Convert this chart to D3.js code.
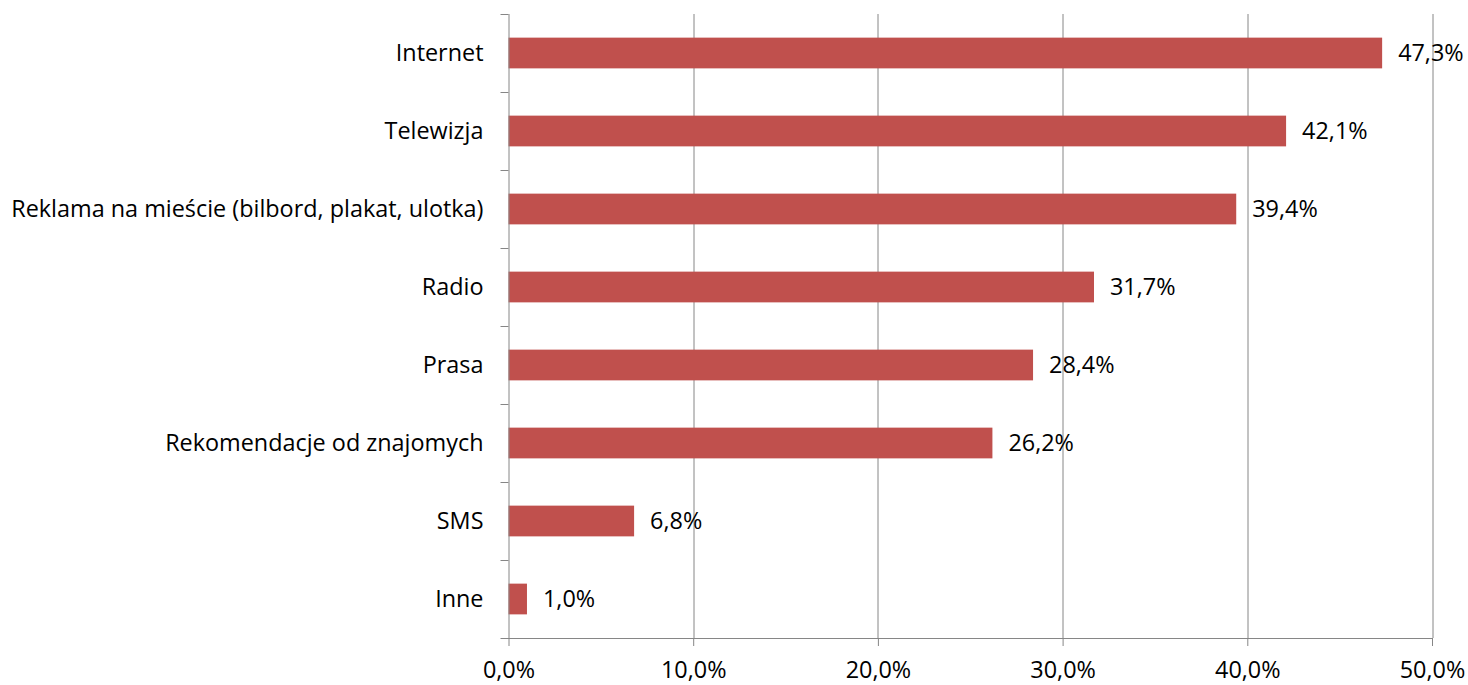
<!DOCTYPE html>
<html lang='pl'>
<head>
	<meta charset='utf-8'>
	<title>Źródła informacji</title>
	<script src="https://d3js.org/d3.v7.min.js"></script>
	<style>
		body{margin:0;background:#fff;}
		text{font-family:"Open Sans",sans-serif;fill:#000;}
	</style>
</head>
<body>
<div id='chart'></div>
<script type='text/javascript'>
	// data
	const categories = ["Internet","Telewizja","Reklama na mieście (bilbord, plakat, ulotka)","Radio","Prasa","Rekomendacje od znajomych","SMS","Inne"];
	const values = [47.3,42.1,39.4,31.7,28.4,26.2,6.8,1.0];
	const xTicks = [0,10,20,30,40,50];

	const svg_block = {width:1468,height:685};
	let margin = {top:14,right:36,bottom:47,left:508.5};
	let width = svg_block.width - margin.left - margin.right;
	let height = svg_block.height - margin.top - margin.bottom;
	const fmt = v => d3.format(".1f")(v).replace(".",",") + "%";
	const fontSize = 23.4;

	let svg = d3.select("#chart")
				.append("svg")
					.attr("width",svg_block.width)
					.attr("height",svg_block.height)
				.append("g")
					.attr("transform",`translate(${margin.left},${margin.top})`);

	let x = d3.scaleLinear().domain([0,50]).range([0,width]);
	let y = d3.scaleBand().domain(categories).range([0,height]).paddingInner(0.606).paddingOuter(0.303);
	let yBand = d3.scaleBand().domain(categories).range([0,height]);

	//gridlines
	svg.append("g")
		.selectAll("line")
		.data(xTicks.slice(1))
		.enter()
		.append("line")
			.attr("x1",d => Math.round(x(d)) + 0.5)
			.attr("x2",d => Math.round(x(d)) + 0.5)
			.attr("y1",0)
			.attr("y2",height)
			.attr("stroke","#868686")
			.attr("stroke-width",1);

	//bars
	svg.append("g")
		.selectAll("rect")
		.data(values)
		.enter()
		.append("rect")
			.attr("x",0)
			.attr("y",(d,i) => y(categories[i]))
			.attr("width",d => x(d))
			.attr("height",y.bandwidth())
			.attr("fill","#C0504D");

	//x axis
	let xAxis = svg.append("g")
		.attr("transform",`translate(0,${height})`)
		.call(d3.axisBottom(x).tickValues(xTicks).tickFormat(fmt).tickSize(8).tickSizeOuter(0));
	xAxis.select(".domain").remove();
	xAxis.append("line").attr("x1",-8).attr("x2",width).attr("y1",0.5).attr("y2",0.5).attr("stroke","#868686");
	xAxis.selectAll(".tick line").attr("stroke","#868686");
	xAxis.selectAll(".tick text")
		.attr("y",40)
		.attr("dy",0)
		.style("font-family",'"Open Sans",sans-serif')
		.style("font-size",fontSize+"px")
		.attr("fill","#000");

	//category axis with ticks at band boundaries
	let yAxis = svg.append("g");
	yAxis.append("line").attr("x1",0.5).attr("x2",0.5).attr("y1",0).attr("y2",height).attr("stroke","#868686");
	yAxis.selectAll("line.tick")
		.data(categories)
		.enter()
		.append("line")
			.attr("class","tick")
			.attr("x1",-8).attr("x2",0)
			.attr("y1",d => Math.round(yBand(d)) + 0.5)
			.attr("y2",d => Math.round(yBand(d)) + 0.5)
			.attr("stroke","#868686");
	yAxis.selectAll("text")
		.data(categories)
		.enter()
		.append("text")
			.attr("x",-25)
			.attr("y",d => y(d) + y.bandwidth()/2)
			.attr("dy","0.35em")
			.style("text-anchor","end")
			.style("font-size",fontSize+"px")
			.text(d => d);

	//value labels
	svg.append("g")
		.selectAll("text")
		.data(values)
		.enter()
		.append("text")
			.attr("x",d => x(d) + 16)
			.attr("y",(d,i) => y(categories[i]) + y.bandwidth()/2)
			.attr("dy","0.35em")
			.style("font-size",fontSize+"px")
			.text(d => fmt(d));
</script>
</body>
</html>
